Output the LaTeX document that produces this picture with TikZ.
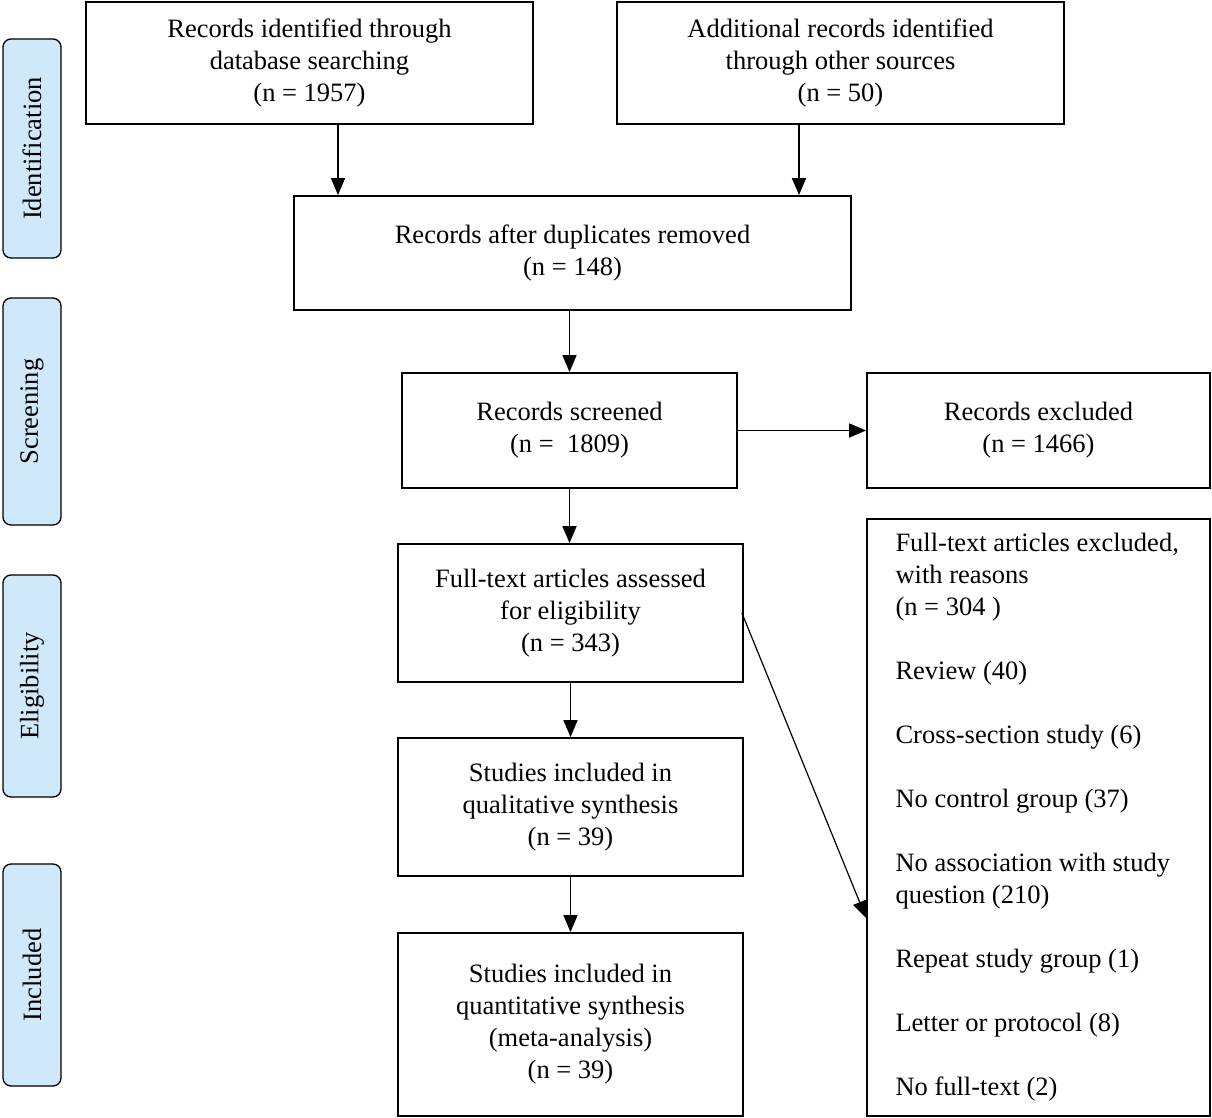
\documentclass[tikz,border=0pt]{standalone}
\usepackage{fontspec}
\setmainfont{Liberation Serif}
\usetikzlibrary{arrows.meta}
\definecolor{sidefill}{RGB}{207,233,250}
\begin{document}
\begin{tikzpicture}[x=1pt,y=-1pt,
  box/.style={draw, line width=1.8pt, align=center, inner sep=0pt,
    font=\fontsize{26.5}{32}\selectfont},
  side/.style={draw, line width=1.3pt, fill=sidefill, rounded corners=8pt,
    inner sep=0pt, rotate=90, minimum height=58pt,
    font=\fontsize{26.5}{32}\selectfont},
  arr/.style={line width=1.6pt, -{Triangle[length=17pt,width=14pt]}},
  darr/.style={line width=1.2pt, -{Triangle[length=17pt,width=14pt]}}]
\useasboundingbox (0,0) rectangle (1212,1118);
\node[box, minimum width=447pt, minimum height=122pt] (a) at (309.5,63)
  {Records identified through\\database searching\\(n = 1957)};
\node[box, minimum width=447pt, minimum height=122pt] (b) at (840.5,63)
  {Additional records identified\\through other sources\\(n = 50)};
\node[box, minimum width=557pt, minimum height=114pt] (c) at (572.5,253)
  {Records after duplicates removed\\(n = 148)};
\node[box, minimum width=335pt, minimum height=115pt] (d) at (569.5,430.5)
  {Records screened\\(n =\ \ 1809)};
\node[box, minimum width=343pt, minimum height=115pt] (e) at (1038.5,430.5)
  {Records excluded\\(n = 1466)};
\node[box, minimum width=345pt, minimum height=138pt] (f) at (570.5,613)
  {Full-text articles assessed\\for eligibility\\(n = 343)};
\node[box, minimum width=345pt, minimum height=138pt] (h) at (570.5,807)
  {Studies included in\\qualitative synthesis\\(n = 39)};
\node[box, minimum width=345pt, minimum height=183pt] (i) at (570.5,1024.5)
  {Studies included in\\quantitative synthesis\\(meta-analysis)\\(n = 39)};
\node[box, minimum width=343pt, minimum height=597pt] (g) at (1038.5,817.5)
  {\parbox{286pt}{\raggedright
   \mbox{Full-text articles excluded,}\\
   \mbox{with reasons}\\
   \mbox{(n = 304 )}\\[32pt]
   \mbox{Review (40)}\\[32pt]
   \mbox{Cross-section study (6)}\\[32pt]
   \mbox{No control group (37)}\\[32pt]
   \mbox{No association with study}\\
   \mbox{question (210)}\\[32pt]
   \mbox{Repeat study group (1)}\\[32pt]
   \mbox{Letter or protocol (8)}\\[32pt]
   \mbox{No full-text (2)}}};
\node[side, minimum width=219pt] (s1) at (32,148.5) {Identification};
\node[side, minimum width=227pt] (s2) at (32,411.5) {Screening};
\node[side, minimum width=222pt] (s3) at (32,686) {Eligibility};
\node[side, minimum width=222pt] (s4) at (32,975) {Included};
\draw[arr] ([xshift=28.5pt]a.south) -- ([xshift=28.5pt]a.south |- c.north);
\draw[arr] ([xshift=-41.5pt]b.south) -- ([xshift=-41.5pt]b.south |- c.north);
\draw[arr] (c.south -| d.north) -- (d.north);
\draw[arr] (d.east) -- (e.west);
\draw[arr] (d.south) -- (d.south |- f.north);
\draw[arr] (f.south) -- (h.north);
\draw[arr] (h.south) -- (i.north);
\draw[darr] ([xshift=-2pt]f.east) -- ([yshift=-100.5pt]g.west);
\end{tikzpicture}
\end{document}
